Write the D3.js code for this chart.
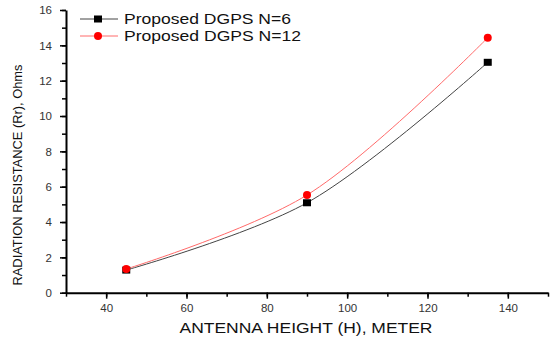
<!DOCTYPE html>
<html>
<head>
<meta charset="utf-8">
<script src="https://cdn.jsdelivr.net/npm/d3@7"></script>
<style>
  body { margin: 0; background: #fff; }
  text { font-family: Arial, "Liberation Sans", sans-serif; }
</style>
</head>
<body>
<svg id="chart" width="550" height="342"></svg>
<script>
// data
var heights = [45, 90, 135];
var rrN6 = [1.28, 5.09, 13.04];
var rrN12 = [1.34, 5.53, 14.43];
var seriesNames = ["Proposed DGPS N=6", "Proposed DGPS N=12"];
var xTicks = [40, 60, 80, 100, 120, 140];
var yTicks = [0, 2, 4, 6, 8, 10, 12, 14, 16];

var svg = d3.select("#chart");

var x = d3.scaleLinear().domain([30, 150]).range([66, 548]);
var y = d3.scaleLinear().domain([0, 16]).range([292.7, 10]);

// minor ticks first so major ones draw on top
var xMinor = d3.axisBottom(x).tickValues(d3.range(30, 151, 10)).tickSize(4).tickFormat("");
svg.append("g").attr("transform", "translate(0,292.7)").call(xMinor)
  .call(g => g.select(".domain").remove())
  .selectAll("line").attr("stroke", "#000").attr("stroke-width", 1.5);

var yMinor = d3.axisLeft(y).tickValues(d3.range(0, 17, 1)).tickSize(4).tickFormat("");
svg.append("g").attr("transform", "translate(66,0)").call(yMinor)
  .call(g => g.select(".domain").remove())
  .selectAll("line").attr("stroke", "#000").attr("stroke-width", 1.5);

var xAxis = d3.axisBottom(x).tickValues(xTicks).tickSize(6).tickSizeOuter(0).tickPadding(5);
var gx = svg.append("g").attr("transform", "translate(0,292.7)").call(xAxis);
gx.select(".domain").attr("stroke", "#000").attr("stroke-width", 2);
gx.selectAll("line").attr("stroke", "#000").attr("stroke-width", 1.5);
gx.selectAll("text").attr("font-size", 11.5).attr("fill", "#333").attr("font-family", "Arial, 'Liberation Sans', sans-serif");

var yAxis = d3.axisLeft(y).tickValues(yTicks).tickSize(6).tickSizeOuter(0).tickPadding(8);
var gy = svg.append("g").attr("transform", "translate(66,0)").call(yAxis);
gy.select(".domain").attr("stroke", "#000").attr("stroke-width", 2);
gy.selectAll("line").attr("stroke", "#000").attr("stroke-width", 1.5);
gy.selectAll("text").attr("font-size", 11.5).attr("fill", "#333").attr("font-family", "Arial, 'Liberation Sans', sans-serif");

// axis titles (the source font is wider, so stretch to its measured length)
svg.append("text")
  .attr("x", 306).attr("y", 333)
  .attr("text-anchor", "middle")
  .attr("font-size", 15)
  .attr("fill", "#111")
  .attr("textLength", 253).attr("lengthAdjust", "spacingAndGlyphs")
  .text("ANTENNA HEIGHT (H), METER");

svg.append("text")
  .attr("transform", "translate(22,175) rotate(-90)")
  .attr("text-anchor", "middle")
  .attr("font-size", 13.5)
  .attr("fill", "#111")
  .attr("textLength", 221).attr("lengthAdjust", "spacingAndGlyphs")
  .text("RADIATION RESISTANCE (Rr), Ohms");

var line = d3.line()
  .x(function(d, i) { return x(heights[i]); })
  .y(function(d) { return y(d); })
  .curve(d3.curveCatmullRom);

var series = [
  { name: seriesNames[0], values: rrN6, line: "#444", mark: "#000", shape: "square", len: 167 },
  { name: seriesNames[1], values: rrN12, line: "#ff6a6a", mark: "#ff0000", shape: "circle", len: 177 }
];

series.forEach(function(s) {
  svg.append("path")
    .datum(s.values)
    .attr("fill", "none")
    .attr("stroke", s.line)
    .attr("stroke-width", 1)
    .attr("d", line);
});

function drawMarker(g, s, cx, cy) {
  if (s.shape === "square") {
    g.append("rect").attr("x", cx - 4).attr("y", cy - 3.5).attr("width", 8).attr("height", 7).attr("fill", s.mark);
  } else {
    g.append("circle").attr("cx", cx).attr("cy", cy).attr("r", 4).attr("fill", s.mark);
  }
}

series.forEach(function(s) {
  s.values.forEach(function(v, i) {
    drawMarker(svg, s, x(heights[i]), y(v));
  });
});

// legend
var legend = svg.append("g");
series.forEach(function(s, i) {
  var ly = 19 + i * 17;
  legend.append("line").attr("x1", 80).attr("x2", 118).attr("y1", ly).attr("y2", ly)
    .attr("stroke", s.line).attr("stroke-width", 1);
  drawMarker(legend, s, 98, ly);
  legend.append("text").attr("x", 124).attr("y", ly + 5)
    .attr("font-size", 15).attr("fill", "#111")
    .attr("textLength", s.len).attr("lengthAdjust", "spacingAndGlyphs")
    .text(s.name);
});
</script>
</body>
</html>
